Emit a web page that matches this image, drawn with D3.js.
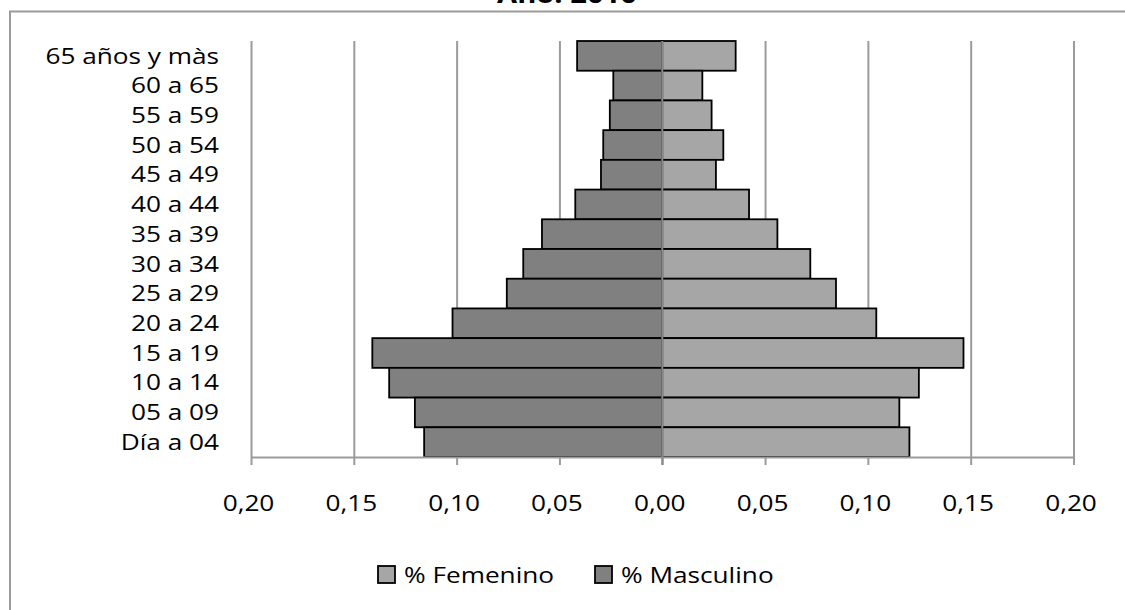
<!DOCTYPE html>
<html>
<head>
<meta charset="utf-8">
<script src="https://cdnjs.cloudflare.com/ajax/libs/d3/7.8.5/d3.min.js"></script>
<style>
  html, body { margin: 0; padding: 0; background: #fff; overflow: hidden; }
  svg { display: block; font-family: "Open Sans", "Noto Sans", sans-serif; }
</style>
</head>
<body>
<svg id="chart" width="1125" height="610"></svg>
<script>
const categories = ["65 años y màs", "60 a 65", "55 a 59", "50 a 54", "45 a 49", "40 a 44",
  "35 a 39", "30 a 34", "25 a 29", "20 a 24", "15 a 19", "10 a 14", "05 a 09", "Día a 04"];
const masculino = [0.0414, 0.0238, 0.0255, 0.0287, 0.0298, 0.0423, 0.0585, 0.0676, 0.0756,
  0.1020, 0.1410, 0.1328, 0.1203, 0.1158];
const femenino = [0.0357, 0.0195, 0.0240, 0.0297, 0.0261, 0.0422, 0.0560, 0.0720, 0.0845,
  0.1041, 0.1465, 0.1248, 0.1153, 0.1202];
const tickValues = [-0.20, -0.15, -0.10, -0.05, 0.00, 0.05, 0.10, 0.15, 0.20];
const tickLabels = ["0,20", "0,15", "0,10", "0,05", "0,00", "0,05", "0,10", "0,15", "0,20"];
const seriesNames = ["% Femenino", "% Masculino"];
const titleText = "Año: 2010";

const COL_M = "#808080", COL_F = "#a6a6a6", GRID = "#9b9b9b";
const FS = 22;
const SX = 1.19; // horizontal stretch of text

const svg = d3.select("#chart");

function stretch(sel, factor) {
  sel.each(function () {
    const w = this.getComputedTextLength();
    d3.select(this).attr("textLength", w * factor).attr("lengthAdjust", "spacingAndGlyphs");
  });
}

// frame
svg.append("path")
  .attr("d", "M10,620 V11.5 H1130")
  .attr("fill", "none").attr("stroke", GRID).attr("stroke-width", 2);

// title (cut off at top, as in the reference)
const title = svg.append("text")
  .attr("x", 567).attr("y", 3)
  .attr("text-anchor", "middle")
  .attr("font-size", 24).attr("font-weight", "bold").attr("fill", "#000")
  .text(titleText);
title.attr("textLength", 140).attr("lengthAdjust", "spacingAndGlyphs");

const x = d3.scaleLinear().domain([-0.2, 0.2]).range([251, 1073.5]);
const y = d3.scaleBand().domain(categories).range([41, 457]).padding(0);
const plotTop = 41, plotBottom = 457;

// gridlines
const grid = svg.append("g").attr("transform", `translate(0,${plotBottom})`)
  .call(d3.axisBottom(x).tickValues(tickValues).tickSize(-(plotBottom - plotTop)).tickFormat(""));
grid.select(".domain").remove();
grid.selectAll(".tick line").attr("stroke", GRID).attr("stroke-width", 2);

// bars
const rows = categories.map((c, i) => ({ c, m: masculino[i], f: femenino[i] }));
svg.append("g").selectAll("rect").data(rows).join("rect")
  .attr("x", d => x(-d.m)).attr("y", d => y(d.c))
  .attr("width", d => x(0) - x(-d.m)).attr("height", y.bandwidth())
  .attr("fill", COL_M).attr("stroke", "#000").attr("stroke-width", 1.8);
svg.append("g").selectAll("rect").data(rows).join("rect")
  .attr("x", x(0)).attr("y", d => y(d.c))
  .attr("width", d => x(d.f) - x(0)).attr("height", y.bandwidth())
  .attr("fill", COL_F).attr("stroke", "#000").attr("stroke-width", 1.8);

// bottom axis
const axis = svg.append("g").attr("transform", `translate(0,${plotBottom})`)
  .call(d3.axisBottom(x).tickValues(tickValues).tickSize(8).tickSizeOuter(0)
    .tickFormat((d, i) => tickLabels[i]));
axis.select(".domain").attr("stroke", GRID).attr("stroke-width", 2)
  .attr("d", `M${x(-0.2)},0.5H${x(0.2)}`);
axis.selectAll(".tick line").attr("stroke", GRID).attr("stroke-width", 2);
axis.selectAll(".tick text")
  .attr("y", 46).attr("dy", "0.35em").attr("x", -3)
  .attr("font-size", FS).attr("fill", "#000")
  .attr("font-family", "Open Sans, Noto Sans, sans-serif")
  .call(stretch, SX);

// zero (vertical axis) line on top of bars
svg.append("line")
  .attr("x1", x(0)).attr("x2", x(0)).attr("y1", plotTop).attr("y2", plotBottom + 8)
  .attr("stroke", "#8a8a8a").attr("stroke-width", 2);

// category labels
svg.append("g").selectAll("text").data(categories).join("text")
  .attr("x", 219).attr("y", d => y(d) + y.bandwidth() / 2)
  .attr("dy", "0.35em").attr("text-anchor", "end")
  .attr("font-size", FS).attr("fill", "#000")
  .text(d => d)
  .call(stretch, SX);

// legend
const legendItems = [
  { name: seriesNames[0], color: COL_F, x: 378 },
  { name: seriesNames[1], color: COL_M, x: 595 }
];
const lg = svg.append("g").selectAll("g").data(legendItems).join("g")
  .attr("transform", d => `translate(${d.x},566)`);
lg.append("rect").attr("width", 17).attr("height", 17)
  .attr("fill", d => d.color).attr("stroke", "#000").attr("stroke-width", 1.8);
lg.append("text").attr("x", 26).attr("y", 9).attr("dy", "0.35em")
  .attr("font-size", FS).attr("fill", "#000")
  .text(d => d.name)
  .call(stretch, SX);
</script>
</body>
</html>
